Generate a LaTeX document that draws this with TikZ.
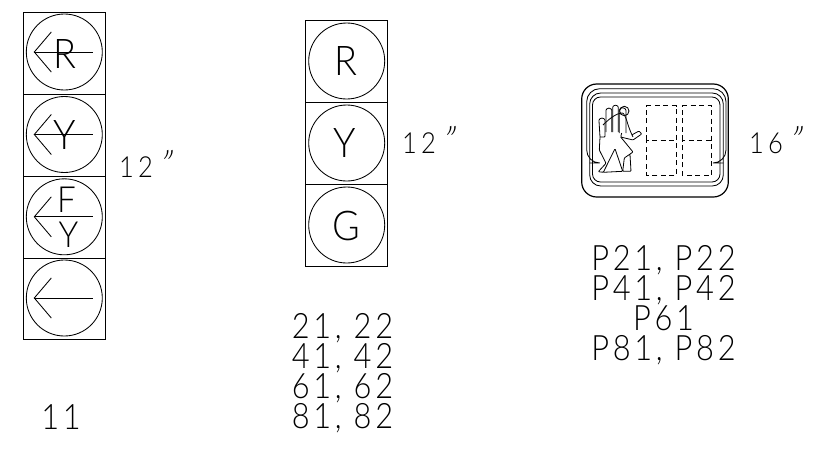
\documentclass[tikz,border=0pt]{standalone}
\usepackage{fontspec}
\setmainfont{Lato Light}
\newcommand{\tick}{{\fontsize{36}{36}\selectfont\addfontfeature{FakeSlant=0.35}"}}
\newcommand{\lamparrow}[1]{%
  \draw[stroke] ([shift={(-30,0)}]#1.center) coordinate (#1t) -- ([shift={(29,0)}]#1.center);
  \draw[stroke] ([shift={(-13,-20)}]#1.center) -- (#1t) -- ([shift={(-13,20)}]#1.center);}
\tikzset{
  stroke/.style={line width=0.85pt,black},
  housing/.style={draw,line width=1pt,minimum width=82pt,minimum height=82pt,inner sep=0pt,outer sep=0pt},
  lamp/.style={draw,circle,line width=0.85pt,minimum size=76pt,inner sep=0pt},
  letter/.style={anchor=base,inner sep=0pt,font=\fontsize{41}{41}\selectfont,xscale=0.92},
  cadlabel/.style={anchor=base,inner sep=0pt,font=\addfontfeature{LetterSpace=12}\fontsize{35}{35}\selectfont,xscale=0.88},
  sizelabel/.style={anchor=base west,inner sep=0pt,font=\addfontfeature{LetterSpace=16}\fontsize{29}{29}\selectfont,xscale=0.88},
  panel/.style={line width=1pt,dash pattern=on 5pt off 3.5pt},
  hand/.style={line width=0.8pt,line join=round,rounded corners=0.8pt},
}
\begin{document}
\begin{tikzpicture}[x=1pt,y=-1pt]
\useasboundingbox (0,0) rectangle (816,466);
% left head
\node[housing] (bl1) at (64.3,53) {};
\node[housing] (bl2) at (64.3,135) {};
\node[housing] (bl3) at (64.3,217) {};
\node[housing,minimum height=81pt] (bl4) at (64.3,298.5) {};
\node[lamp] (l1) at (64.3,52) {};
\node[lamp] (l2) at (64.3,134.5) {};
\node[lamp] (l3) at (64.3,216.8) {};
\node[lamp] (l4) at (64.3,298) {};
\node[letter] (lR) at (64.5,68) {R};
\node[letter] (lY) at (64.5,149) {Y};
\node[letter,font=\fontsize{36}{36}\selectfont] (lF) at (66.5,212.5) {F};
\node[letter,font=\fontsize{36}{36}\selectfont] (lYb) at (68.5,247) {Y};
\lamparrow{l1}\lamparrow{l2}\lamparrow{l3}\lamparrow{l4}
% middle head
\node[housing] (bm1) at (346.7,61) {};
\node[housing] (bm2) at (346.7,143) {};
\node[housing] (bm3) at (346.7,225) {};
\node[lamp] (m1) at (346.7,61) {};
\node[lamp] (m2) at (346.7,143) {};
\node[lamp] (m3) at (346.7,225) {};
\node[letter] (mR) at (346,75) {R};
\node[letter] (mY) at (345,157) {Y};
\node[letter] (mG) at (346,240) {G};
% pedestrian head
\draw[line width=1.2pt,rounded corners=15pt] (581.7,84) rectangle (728.3,197);
\draw[stroke,rounded corners=13pt] (589.7,163) -- (586.7,163) -- (586.7,88.7) -- (726,88.7) -- (726,163) -- (723.3,163);
\draw[stroke,rounded corners=11pt] (589.7,93) rectangle (723.3,186);
\draw[stroke,rounded corners=8pt] (592.5,97) rectangle (720,182);
\draw[panel] (646.7,140) -- (646.7,105.7) -- (676.7,105.7) -- (676.7,175) -- (646.7,175) -- (646.7,140) -- (676.7,140);
\draw[panel] (682.3,140) -- (682.3,105.7) -- (711.7,105.7) -- (711.7,175) -- (682.3,175) -- (682.3,140) -- (711.7,140);
% hand
\draw[hand] (600,137) -- (599,121) arc[start angle=180,end angle=360,radius=3] -- (605,137) -- (600,137);
\draw[hand] (606,132) -- (606,111) arc[start angle=180,end angle=360,radius=2.9] -- (611.8,132);
\draw[hand] (612.7,132) -- (612.7,108) arc[start angle=180,end angle=360,radius=2.8] -- (618.3,132);
\draw[hand] (619.3,133) -- (619.3,111) arc[start angle=180,end angle=360,radius=3.3] -- (626,133);
\draw[stroke] (624.3,111) circle[radius=4.7];
\draw[hand] (603,125) .. controls (610,118) and (617,113) .. (623,113) .. controls (627,118) and (627,125) .. (633,137);
\draw[hand] (621.7,133) -- (620.7,137) -- (633,140) -- (641.7,134) -- (639,131) -- (631.7,135);
\draw[hand] (600,137) -- (599.3,150) -- (606,163.3) -- (598.3,171.7) -- (603.3,172.3) -- (615,148.7) -- (622.7,171.3) -- (603.3,172.3);
\draw[hand] (620.7,137) -- (633,152) -- (624.3,158) -- (622.7,171.3) -- (631,171.3) -- (630,154.7);
% labels
\node[sizelabel] (t12a) at (119,177) {12\hspace*{4pt}\tick};
\node[sizelabel] (t12b) at (402,153) {12\hspace*{4pt}\tick};
\node[sizelabel] (t16) at (749,153) {16\hspace*{4pt}\tick};
\node[cadlabel] (t11) at (61,429) {11};
\node[cadlabel] (a1) at (342.5,338) {21, 22};
\node[cadlabel] (a2) at (342.5,368) {41, 42};
\node[cadlabel] (a3) at (342.5,398) {61, 62};
\node[cadlabel] (a4) at (342.5,428) {81, 82};
\node[cadlabel] (p1) at (663.5,270) {P21, P22};
\node[cadlabel] (p2) at (663.5,300) {P41, P42};
\node[cadlabel] (p3) at (663.5,330) {P61};
\node[cadlabel] (p4) at (663.5,360) {P81, P82};
\end{tikzpicture}
\end{document}
